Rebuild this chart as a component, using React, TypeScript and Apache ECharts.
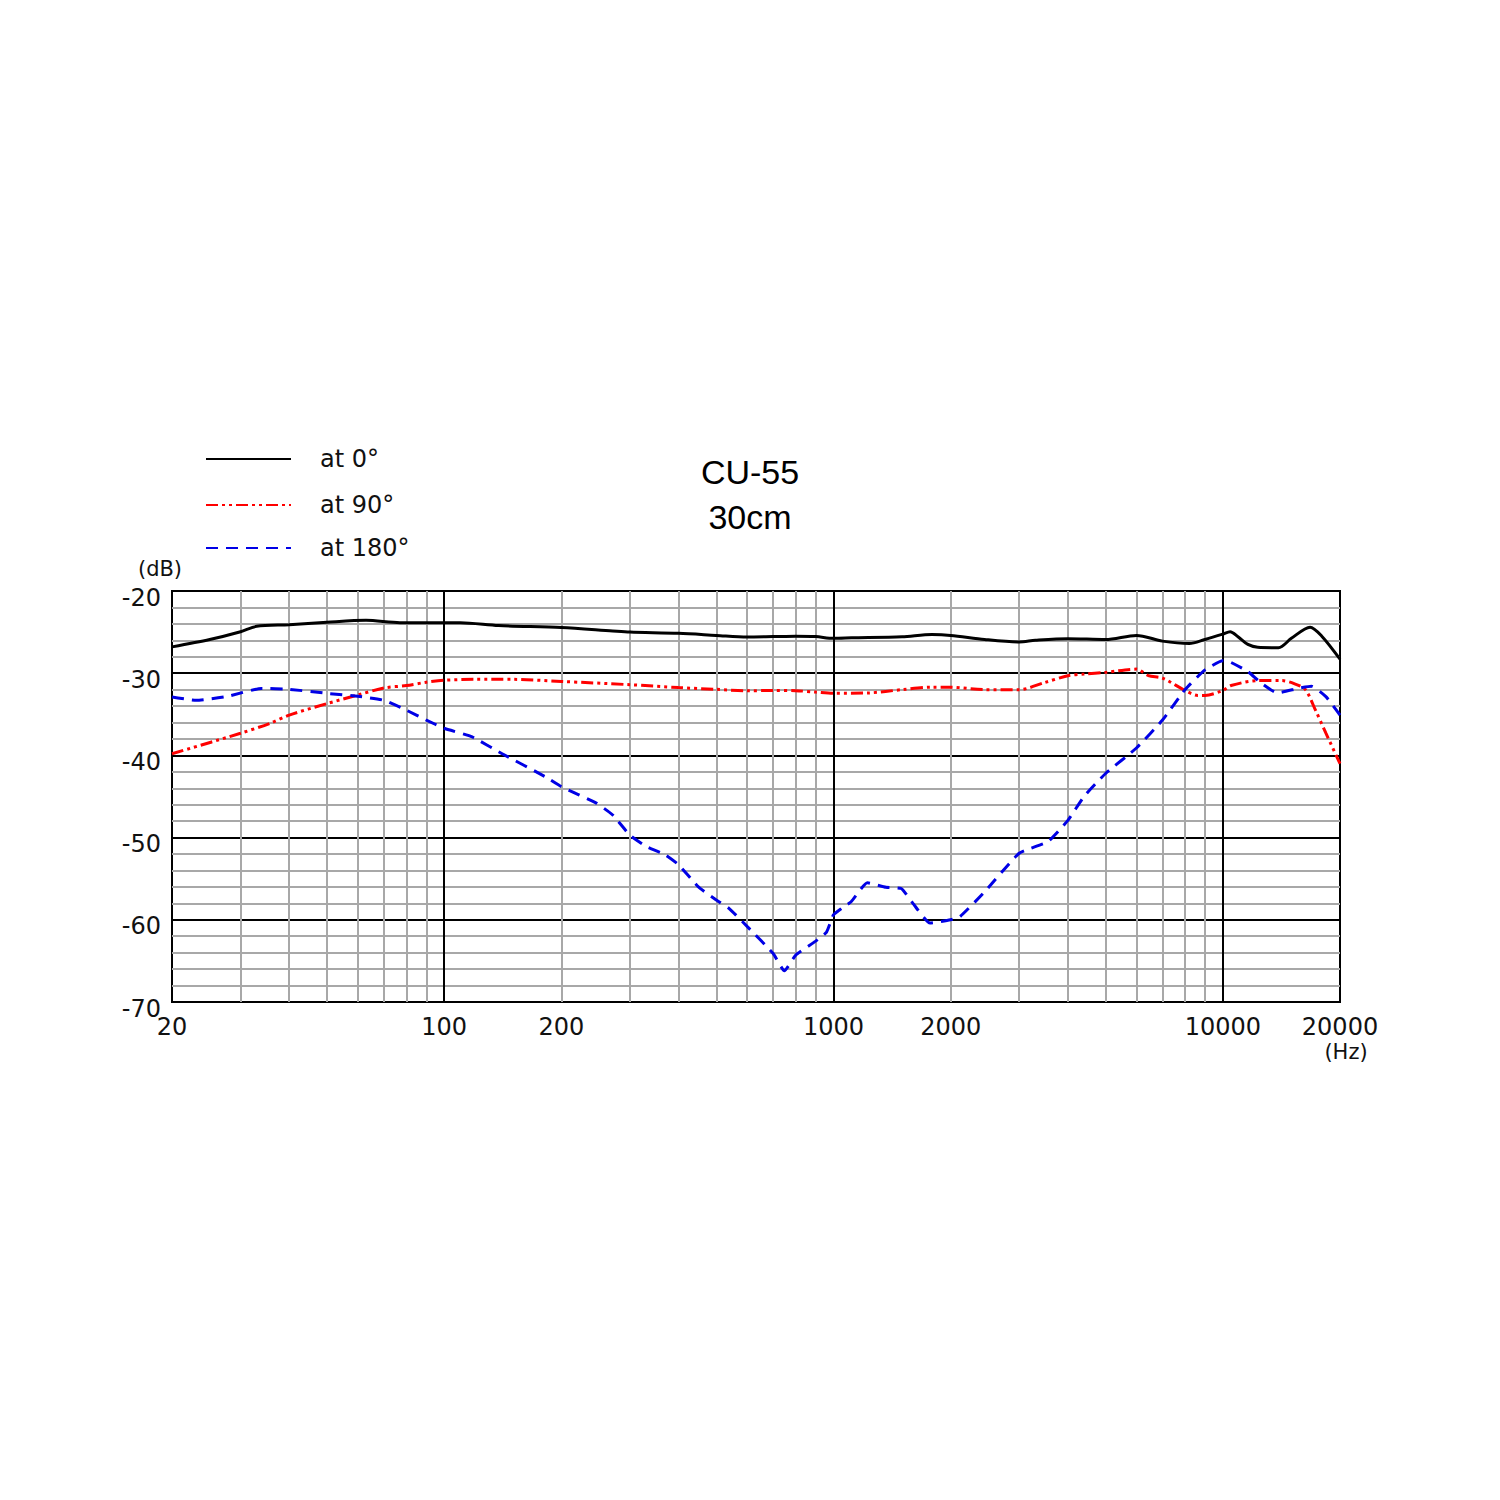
import React, { useEffect, useRef } from 'react';
import * as echarts from 'echarts';

// on-axis (0°) response
const freq0 = [20, 25, 30, 33, 40, 50, 63, 77, 100, 110, 138, 200, 271, 300, 400, 500, 600, 700, 800, 900, 1000, 1113, 1500, 1790, 2000, 2445, 3000, 3300, 4000, 5000, 6000, 7000, 8200, 9000, 10000, 10440, 10940, 11600, 12300, 13900, 15000, 16760, 17960, 20000];
const level0 = [-26.8, -25.9, -24.95, -24.3, -24.1, -23.8, -23.57, -23.85, -23.85, -23.85, -24.2, -24.45, -24.87, -25.0, -25.15, -25.4, -25.6, -25.55, -25.5, -25.55, -25.76, -25.7, -25.56, -25.3, -25.4, -25.9, -26.2, -26.0, -25.8, -25.9, -25.4, -26.1, -26.4, -25.9, -25.25, -24.95, -25.56, -26.5, -26.85, -26.9, -25.76, -24.4, -25.5, -28.3];

// 90° response
const freq90 = [20, 30, 35.7, 40, 50, 60, 70, 80, 90, 100, 120, 150, 200, 300, 400, 500, 600, 700, 800, 900, 1000, 1232, 1500, 1790, 2000, 2445, 3000, 3480, 4000, 4400, 5000, 6000, 6440, 7000, 8000, 8630, 9000, 10000, 10500, 12300, 14200, 15300, 16300, 17300, 18400, 20000];
const level90 = [-39.8, -37.3, -36.1, -35.1, -33.7, -32.65, -31.8, -31.5, -31.1, -30.85, -30.75, -30.75, -31.0, -31.4, -31.75, -31.96, -32.13, -32.1, -32.13, -32.3, -32.45, -32.4, -32.0, -31.7, -31.7, -32.0, -32.0, -31.15, -30.3, -30.1, -29.9, -29.5, -30.3, -30.6, -32.1, -32.7, -32.7, -32.1, -31.5, -30.9, -30.9, -31.3, -32.0, -34.5, -37.3, -41.0];

// 180° response
const freq180 = [20, 23.1, 27.6, 33.9, 40, 50, 60, 70, 80, 90, 100, 118, 141, 182, 200, 246, 271, 300, 331, 370, 400, 450, 500, 539, 600, 700, 748, 800, 900, 960, 1000, 1050, 1110, 1222, 1364, 1493, 1600, 1770, 2000, 2115, 2445, 3000, 3550, 4000, 4400, 5000, 6000, 7000, 8000, 9000, 10000, 10400, 11600, 12550, 13800, 15600, 16900, 18400, 20000];
const level180 = [-32.9, -33.3, -32.85, -31.85, -31.96, -32.45, -32.8, -33.3, -34.5, -35.7, -36.7, -37.75, -39.8, -42.6, -43.8, -45.8, -47.25, -49.7, -51.1, -52.1, -53.3, -56.0, -57.6, -58.6, -60.8, -64.1, -66.2, -64.3, -62.6, -61.5, -59.4, -58.6, -57.8, -55.5, -56.05, -56.2, -58.0, -60.4, -60.0, -59.6, -56.6, -51.9, -50.5, -47.9, -45.0, -42.2, -39.1, -35.7, -32.0, -29.6, -28.5, -28.6, -29.8, -31.2, -32.4, -31.85, -31.6, -32.85, -35.1];

const seriesNames = ['at 0°', 'at 90°', 'at 180°'];
const xLabelValues = [20, 100, 200, 1000, 2000, 10000, 20000];
const xMinorLines = [30, 40, 50, 60, 70, 80, 90, 200, 300, 400, 500, 600, 700, 800, 900, 2000, 3000, 4000, 5000, 6000, 7000, 8000, 9000];
const xMajorLines = [100, 1000, 10000];

const toPairs = (f: number[], v: number[]) => f.map((x, i) => [x, v[i]]);

const App: React.FC = () => {
  const chartRef = useRef<HTMLDivElement>(null);

  useEffect(() => {
    if (!chartRef.current) return;
    const chart = echarts.init(chartRef.current, undefined, { renderer: 'svg' });
    const font = 'DejaVu Sans';
    const gray = '#a8a8a8';
    const legendTops = [447, 493, 536];

    const option: any = {
      animation: false,
      backgroundColor: '#fff',
      title: {
        text: 'CU-55\n30cm',
        left: 'center',
        top: 444,
        textStyle: {
          fontFamily: 'Liberation Sans',
          fontSize: 34,
          fontWeight: 'normal',
          lineHeight: 45,
          color: '#000',
        },
      },
      legend: seriesNames.map((name, i) => ({
        data: [name],
        left: 205,
        top: legendTops[i],
        padding: 0,
        itemWidth: 85,
        itemHeight: 14,
        itemStyle: { opacity: 0 },
        textStyle: { fontFamily: font, fontSize: 24, color: '#111', padding: [0, 0, 0, 24] },
      })),
      grid: {
        left: 172,
        top: 591,
        width: 1168,
        height: 411,
        show: true,
        borderColor: '#000',
        borderWidth: 2,
        backgroundColor: 'transparent',
      },
      xAxis: [
        {
          type: 'log',
          logBase: 10,
          min: 20,
          max: 20000,
          position: 'bottom',
          axisLine: { show: false },
          axisTick: { show: false, customValues: xMinorLines },
          splitLine: { show: true, lineStyle: { color: gray, width: 2 } },
          axisLabel: {
            customValues: xLabelValues,
            margin: 12,
            fontFamily: font,
            fontSize: 24,
            color: '#111',
            lineHeight: 26,
            formatter: (v: number) => {
              const n = Math.round(v);
              return n === 20000 ? '20000\n{hz|(Hz)}' : String(n);
            },
            rich: {
              hz: { fontFamily: font, fontSize: 21, color: '#111', lineHeight: 24, padding: [0, 0, 0, 12] },
            },
          },
        },
        {
          type: 'log',
          logBase: 10,
          min: 20,
          max: 20000,
          position: 'top',
          axisLine: { show: false },
          axisTick: { show: false, customValues: xMajorLines },
          axisLabel: { show: false },
          splitLine: { show: true, lineStyle: { color: '#000', width: 2 } },
        },
      ],
      yAxis: {
        type: 'value',
        min: -70,
        max: -20,
        interval: 2,
        name: '(dB)',
        nameLocation: 'end',
        nameGap: 12,
        nameTextStyle: { fontFamily: font, fontSize: 21, color: '#111', align: 'center', padding: [0, 24, 0, 0] },
        axisLine: { show: false },
        axisTick: { show: false },
        axisLabel: {
          margin: 11,
          fontFamily: font,
          fontSize: 24,
          color: '#111',
          verticalAlign: 'top',
          lineHeight: 13,
          formatter: (v: number) => (Math.round(v) % 10 === 0 ? String(Math.round(v)) : ''),
        },
        splitLine: {
          show: true,
          lineStyle: { color: ['#000', gray, gray, gray, gray], width: 2 },
        },
      },
      series: [
        {
          name: seriesNames[0],
          type: 'line',
          xAxisIndex: 0,
          data: toPairs(freq0, level0),
          symbol: 'none',
          smooth: 0.3,
          lineStyle: { color: '#000', width: 3 },
          itemStyle: { color: '#000' },
        },
        {
          name: seriesNames[1],
          type: 'line',
          xAxisIndex: 0,
          data: toPairs(freq90, level90),
          symbol: 'none',
          smooth: 0.3,
          lineStyle: { color: '#f00', width: 3, type: [12, 4, 3, 4, 3, 4] },
          itemStyle: { color: '#f00' },
        },
        {
          name: seriesNames[2],
          type: 'line',
          xAxisIndex: 0,
          data: toPairs(freq180, level180),
          symbol: 'none',
          smooth: 0.15,
          lineStyle: { color: '#0000e6', width: 3, type: [12, 8] },
          itemStyle: { color: '#0000e6' },
        },
      ],
    };

    chart.setOption(option);
    return () => chart.dispose();
  }, []);

  return (
    <div
      ref={chartRef}
      style={{ position: 'absolute', left: 0, top: 0, width: 1500, height: 1500, background: '#fff' }}
    />
  );
};

export default App;
